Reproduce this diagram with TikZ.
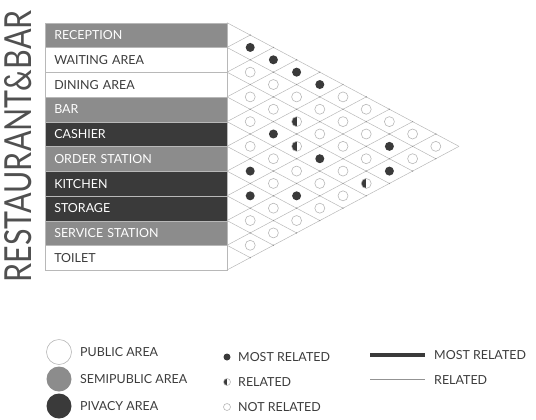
\documentclass[tikz,border=0pt]{standalone}
\usepackage{fontspec}
\setmainfont{Lato}
\definecolor{dk}{HTML}{3A3A3A}
\definecolor{md}{HTML}{8C8C8C}
\definecolor{gl}{HTML}{B8B8B8}
\definecolor{tx}{HTML}{3C3C3C}
\definecolor{ttl}{HTML}{505050}
\begin{document}
\begin{tikzpicture}[x=1bp,y=-1bp,
  lbl/.style={font=\fontsize{12.5}{14}\selectfont, text=tx, anchor=west, inner sep=0},
  rowbox/.style={rectangle, draw=gl, line width=0.5bp, minimum height=24.73bp,
     text width=164bp, inner xsep=9bp, inner ysep=0, align=left, anchor=north west,
     font=\fontsize{12.5}{14}\selectfont},
  gridline/.style={draw=gl, line width=0.5bp},
  dotF/.style={circle, fill=dk, minimum size=9bp, inner sep=0},
  dotO/.style={circle, draw=gl, line width=0.6bp, fill=white, minimum size=10bp, inner sep=0},
  dotH/.style={dotO, path picture={\fill[dk] (path picture bounding box.south west) rectangle (path picture bounding box.north);}},
  areadot/.style={circle, minimum size=25bp, inner sep=0},
]
\useasboundingbox (0,0) rectangle (536,419);

% title
\node[rotate=90, text=ttl, inner sep=0] (title) at (18,146.5)
  {\resizebox{272bp}{27bp}{\fontsize{30}{30}\selectfont RESTAURANT\&BAR}};

% rows
\foreach \i/\lab/\fc/\tc in {0/RECEPTION/md/white, 1/WAITING AREA/white/tx, 2/DINING AREA/white/tx,
   3/BAR/md/white, 4/CASHIER/dk/white, 5/ORDER STATION/md/white, 6/KITCHEN/dk/white,
   7/STORAGE/dk/white, 8/SERVICE STATION/md/white, 9/TOILET/white/tx}
  {\node[rowbox, fill=\fc, text=\tc] (r\i) at (45,{22.7+\i*24.73}) {\lab};}

% triangle matrix
\begin{scope}[shift={(227,22.7)}, x=23.2bp, y=-12.365bp]
  \foreach \k in {0,...,10}{
    \draw[gridline] (0,{2*\k}) -- ({10-\k},{10+\k});
    \draw[gridline] (0,{2*\k}) -- (\k,\k);
  }
  \foreach \t in {1,...,9}{
    \pgfmathtruncatemacro\a{\t+2}
    \pgfmathtruncatemacro\b{20-\t}
    \foreach \m in {\t,\a,...,\b}{\fill[gl!80!black] (\t,\m) circle (0.7bp);}
  }
  \foreach \i/\j/\s in {
    0/1/dotF,1/2/dotO,2/3/dotO,3/4/dotO,4/5/dotO,5/6/dotF,6/7/dotF,7/8/dotO,8/9/dotO,
    0/2/dotF,1/3/dotO,2/4/dotO,3/5/dotF,4/6/dotO,5/7/dotO,6/8/dotO,7/9/dotO,
    0/3/dotF,1/4/dotO,2/5/dotH,3/6/dotH,4/7/dotO,5/8/dotF,6/9/dotO,
    0/4/dotF,1/5/dotO,2/6/dotO,3/7/dotF,4/8/dotO,5/9/dotO,
    0/5/dotO,1/6/dotO,2/7/dotO,3/8/dotO,4/9/dotO,
    0/6/dotO,1/7/dotO,2/8/dotO,3/9/dotH,
    0/7/dotO,1/8/dotF,2/9/dotF,
    0/8/dotO,1/9/dotO,
    0/9/dotO}
    {\node[\s] (p\i\j) at ({\j-\i},{\i+\j+1}) {};}
\end{scope}

% legend: areas
\node[areadot, draw=gl, line width=0.6bp, fill=white] (pub) at (59,352) {};
\node[areadot, fill=md] (semi) at (59,379) {};
\node[areadot, fill=dk] (priv) at (59,406) {};
\node[lbl] (publ) at (80,352) {PUBLIC AREA};
\node[lbl] (semil) at (80,379) {SEMIPUBLIC AREA};
\node[lbl] (privl) at (80,406) {PIVACY AREA};

% legend: relation dots
\node[dotF, minimum size=7bp] (lm) at (227,357) {};
\node[dotH, minimum size=7bp] (lr) at (227,382) {};
\node[dotO, minimum size=7bp] (ln) at (227,407) {};
\node[lbl] (lml) at (238,357) {MOST RELATED};
\node[lbl] (lrl) at (238,382) {RELATED};
\node[lbl] (lnl) at (238,407) {NOT RELATED};

% legend: lines
\coordinate (a1) at (370,355);
\coordinate (a2) at (425,355);
\coordinate (b1) at (370,379);
\coordinate (b2) at (425,379);
\draw[dk, line width=4bp] (a1) -- (a2);
\draw[gl!80!black, line width=0.7bp] (b1) -- (b2);
\node[lbl] (ll1) at (434,355) {MOST RELATED};
\node[lbl] (ll2) at (434,380) {RELATED};
\end{tikzpicture}
\end{document}
